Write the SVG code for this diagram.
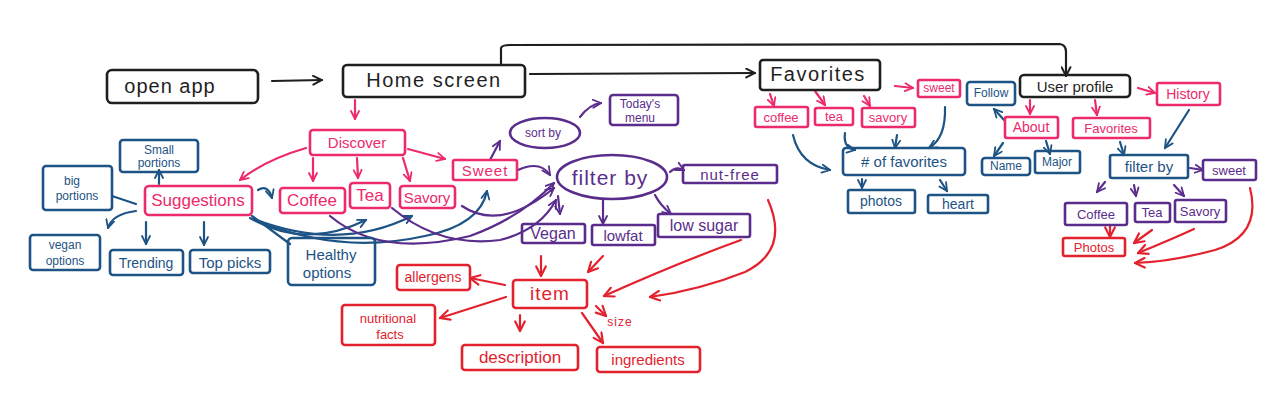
<svg xmlns="http://www.w3.org/2000/svg" width="1268" height="404" viewBox="0 0 1268 404">
<style>
rect,ellipse{fill:none;stroke-width:2.6;stroke-linejoin:round}
path{fill:none;stroke-width:2.2;stroke-linecap:round}
text{font-family:"Liberation Sans",Arial,sans-serif;text-anchor:middle;dominant-baseline:central}
.k{stroke:#1f1f1f}.p{stroke:#ec2a6c}.b{stroke:#1d5385}.u{stroke:#5a2d8c}.r{stroke:#e3222e}
.tk{fill:#1f1f1f}.tp{fill:#ec2a6c}.tb{fill:#1d5385}.tu{fill:#5a2d8c}.tr{fill:#e3222e}
.ck{stroke:#1f1f1f;marker-end:url(#mk)}.cp{stroke:#ec2a6c;marker-end:url(#mp)}.cb{stroke:#1d5385;marker-end:url(#mb)}.cu{stroke:#5a2d8c;marker-end:url(#mu)}.cr{stroke:#e3222e;marker-end:url(#mr)}
.nb{stroke:#1d5385}
</style>
<defs>
<marker id="mk" viewBox="0 0 10 10" refX="9" refY="5" markerWidth="11" markerHeight="11" markerUnits="userSpaceOnUse" orient="auto"><path d="M1,1 L9,5 L1,9" style="stroke:#1f1f1f;stroke-width:1.8"/></marker>
<marker id="mp" viewBox="0 0 10 10" refX="9" refY="5" markerWidth="10" markerHeight="10" markerUnits="userSpaceOnUse" orient="auto"><path d="M1,1 L9,5 L1,9" style="stroke:#ec2a6c;stroke-width:1.8"/></marker>
<marker id="mb" viewBox="0 0 10 10" refX="9" refY="5" markerWidth="10" markerHeight="10" markerUnits="userSpaceOnUse" orient="auto"><path d="M1,1 L9,5 L1,9" style="stroke:#1d5385;stroke-width:1.8"/></marker>
<marker id="mu" viewBox="0 0 10 10" refX="9" refY="5" markerWidth="10" markerHeight="10" markerUnits="userSpaceOnUse" orient="auto"><path d="M1,1 L9,5 L1,9" style="stroke:#5a2d8c;stroke-width:1.8"/></marker>
<marker id="mr" viewBox="0 0 10 10" refX="9" refY="5" markerWidth="12" markerHeight="12" markerUnits="userSpaceOnUse" orient="auto"><path d="M1,1 L9,5 L1,9" style="stroke:#e3222e;stroke-width:1.8"/></marker>
</defs>
<rect width="1268" height="404" fill="#ffffff" style="stroke:none"/>

<g id="connectors">
<!-- black -->
<path class="ck" d="M272,81 L322,80"/>
<path class="ck" d="M530,74 L755,73"/>
<path class="ck" d="M501,65 L501,48 Q502,45 510,45 L1060,44 Q1066,45 1066,52 L1066,76"/>
<!-- pink -->
<path class="cp" d="M355,100 L355,119"/>
<path class="cp" d="M306,148 Q265,160 240,180"/>
<path class="cp" d="M313,158 L313,181"/>
<path class="cp" d="M357,158 L358,178"/>
<path class="cp" d="M403,158 L410,181"/>
<path class="cp" d="M408,149 L445,159"/>
<path class="cp" d="M770,94 L774,106"/>
<path class="cp" d="M815,91 L825,105"/>
<path class="cp" d="M864,96 L870,106"/>
<path class="cp" d="M895,86 L913,88"/>
<path class="cp" d="M1030,100 L1030,114"/>
<path class="cp" d="M1095,100 L1097,115"/>
<path class="cp" d="M1138,88 L1155,93"/>
<!-- blue -->
<path class="cb" d="M159,184 L159,170"/>
<path class="nb" d="M112,196 L136,204"/>
<path class="cb" d="M136,211 Q112,214 108,228"/>
<path class="cb" d="M146,222 L146,244"/>
<path class="cb" d="M204,222 L204,245"/>
<path class="nb" d="M252,216 Q275,233 290,244"/>
<path class="cb" d="M258,190 Q268,184 272,198"/>
<path class="cb" d="M250,218 Q305,250 366,220"/>
<path class="cb" d="M254,219 Q340,252 412,216"/>
<path class="cb" d="M258,221 Q340,255 425,236 Q480,225 487,191"/>
<path class="cb" d="M793,135 Q800,165 830,170"/>
<path class="cb" d="M845,133 Q843,148 855,150"/>
<path class="cb" d="M897,135 L895,148"/>
<path class="cb" d="M945,107 Q946,138 929,148"/>
<path class="cb" d="M862,179 L862,188"/>
<path class="cb" d="M940,180 L947,191"/>
<path class="cb" d="M1005,121 L994,109"/>
<path class="cb" d="M1003,143 L994,156"/>
<path class="cb" d="M1046,141 L1050,154"/>
<path class="cb" d="M1120,142 L1124,155"/>
<path class="cb" d="M1189,110 L1165,148"/>
<!-- purple -->
<path class="cu" d="M490,160 L500,141"/>
<path class="cu" d="M580,117 Q590,104 601,103"/>
<path class="cu" d="M518,170 Q540,160 550,175"/>
<path class="cu" d="M330,216 Q380,258 470,236 Q520,218 554,183"/>
<path class="cu" d="M392,208 Q440,248 500,240 Q540,230 556,200"/>
<path class="cu" d="M462,206 Q500,232 554,188"/>
<path class="cu" d="M670,172 Q676,166 684,170"/>
<path class="cu" d="M558,196 L560,214"/>
<path class="cu" d="M603,200 L603,224"/>
<path class="cu" d="M655,195 Q660,205 671,214"/>
<path class="cu" d="M1105,182 L1097,192"/>
<path class="cu" d="M1134,185 L1136,196"/>
<path class="cu" d="M1174,185 L1184,196"/>
<path class="cu" d="M1190,168 L1203,170"/>
<!-- red -->
<path class="cr" d="M541,256 L541,276"/>
<path class="cr" d="M603,256 L588,272"/>
<path class="cr" d="M741,240 Q680,262 604,296"/>
<path class="cr" d="M768,200 Q790,250 745,272 Q700,290 650,297"/>
<path class="cr" d="M505,285 L470,278"/>
<path class="cr" d="M506,297 L440,318"/>
<path class="cr" d="M520,315 L520,331"/>
<path class="cr" d="M582,313 L603,343"/>
<path class="cr" d="M596,306 L606,316"/>
<path class="cr" d="M1110,226 L1110,237"/>
<path class="cr" d="M1152,230 L1134,243"/>
<path class="cr" d="M1194,229 Q1170,240 1138,253"/>
<path class="cr" d="M1250,188 Q1262,235 1215,250 Q1170,262 1135,263"/>
</g>

<g id="open-app"><rect class="k" x="107" y="70" width="151" height="33" rx="5"/><text class="tk" x="170" y="86" font-size="20" letter-spacing="1">open app</text></g>
<g id="home-screen"><rect class="k" x="343" y="65" width="182" height="32" rx="4"/><text class="tk" x="434" y="80" font-size="20" letter-spacing="1.5">Home screen</text></g>
<g id="favorites"><rect class="k" x="760" y="60" width="120" height="30" rx="3"/><text class="tk" x="818" y="74" font-size="20" letter-spacing="1.5">Favorites</text></g>
<g id="user-profile"><rect class="k" x="1020" y="75" width="110" height="22" rx="4"/><text class="tk" x="1075" y="86" font-size="15">User profile</text></g>

<g id="discover"><rect class="p" x="310" y="130" width="95" height="25" rx="3"/><text class="tp" x="357" y="142" font-size="15">Discover</text></g>
<g id="suggestions"><rect class="p" x="145" y="186" width="107" height="29" rx="4"/><text class="tp" x="198" y="200" font-size="17">Suggestions</text></g>
<g id="coffee"><rect class="p" x="280" y="188" width="65" height="25" rx="3"/><text class="tp" x="312" y="200" font-size="17">Coffee</text></g>
<g id="tea"><rect class="p" x="350" y="183" width="40" height="25" rx="3"/><text class="tp" x="370" y="195" font-size="17">Tea</text></g>
<g id="savory"><rect class="p" x="400" y="186" width="55" height="22" rx="3"/><text class="tp" x="427" y="197" font-size="15">Savory</text></g>
<g id="sweet"><rect class="p" x="453" y="160" width="64" height="20" rx="2"/><text class="tp" x="485" y="170" font-size="15" letter-spacing="1">Sweet</text></g>

<g id="small-portions"><rect class="b" x="120" y="140" width="78" height="32" rx="3"/><text class="tb" font-size="12"><tspan x="159" y="150">Small</tspan><tspan x="159" y="163">portions</tspan></text></g>
<g id="big-portions"><rect class="b" x="43" y="166" width="69" height="44" rx="3"/><text class="tb" font-size="12"><tspan x="72" y="181">big</tspan><tspan x="77" y="196">portions</tspan></text></g>
<g id="vegan-options"><rect class="b" x="30" y="235" width="70" height="35" rx="3"/><text class="tb" font-size="12"><tspan x="65" y="245">vegan</tspan><tspan x="65" y="261">options</tspan></text></g>
<g id="trending"><rect class="b" x="110" y="250" width="73" height="25" rx="3"/><text class="tb" x="146" y="263" font-size="14">Trending</text></g>
<g id="top-picks"><rect class="b" x="190" y="250" width="80" height="23" rx="3"/><text class="tb" x="230" y="262" font-size="15">Top picks</text></g>
<g id="healthy-options"><rect class="b" x="288" y="238" width="87" height="47" rx="4"/><text class="tb" font-size="15"><tspan x="331" y="254">Healthy</tspan><tspan x="327" y="272">options</tspan></text></g>

<g id="sort-by"><ellipse class="u" cx="545" cy="133" rx="35" ry="15"/><text class="tu" x="543" y="133" font-size="12">sort by</text></g>
<g id="todays-menu"><rect class="u" x="610" y="95" width="68" height="30" rx="3"/><text class="tu" font-size="12"><tspan x="640" y="104">Today's</tspan><tspan x="640" y="118">menu</tspan></text></g>
<g id="filter-by"><ellipse class="u" cx="612" cy="177" rx="55" ry="22"/><text class="tu" x="610" y="177" font-size="21" letter-spacing="1">filter by</text></g>
<g id="nut-free"><rect class="u" x="683" y="165" width="94" height="18" rx="2"/><text class="tu" x="730" y="174" font-size="15" letter-spacing="1">nut-free</text></g>
<g id="vegan"><rect class="u" x="522" y="224" width="63" height="19" rx="2"/><text class="tu" x="553" y="233" font-size="16">Vegan</text></g>
<g id="lowfat"><rect class="u" x="592" y="225" width="63" height="20" rx="2"/><text class="tu" x="623" y="235" font-size="15">lowfat</text></g>
<g id="low-sugar"><rect class="u" x="658" y="214" width="92" height="23" rx="2"/><text class="tu" x="704" y="225" font-size="16">low sugar</text></g>

<g id="item"><rect class="r" x="513" y="280" width="74" height="28" rx="3"/><text class="tr" x="550" y="293" font-size="19" letter-spacing="1">item</text></g>
<g id="allergens"><rect class="r" x="397" y="265" width="73" height="25" rx="3"/><text class="tr" x="433" y="277" font-size="14">allergens</text></g>
<g id="nutritional-facts"><rect class="r" x="342" y="305" width="93" height="40" rx="3"/><text class="tr" font-size="13"><tspan x="388" y="318">nutritional</tspan><tspan x="390" y="334">facts</tspan></text></g>
<g id="description"><rect class="r" x="462" y="345" width="116" height="25" rx="3"/><text class="tr" x="520" y="357" font-size="17">description</text></g>
<g id="ingredients"><rect class="r" x="597" y="347" width="103" height="25" rx="3"/><text class="tr" x="648" y="359" font-size="15">ingredients</text></g>
<g id="size"><text class="tr" x="620" y="322" font-size="12" letter-spacing="1">size</text></g>

<g id="fav-coffee"><rect class="p" x="755" y="107" width="53" height="20" rx="2"/><text class="tp" x="781" y="117" font-size="13">coffee</text></g>
<g id="fav-tea"><rect class="p" x="815" y="108" width="38" height="17" rx="2"/><text class="tp" x="834" y="116" font-size="13">tea</text></g>
<g id="fav-savory"><rect class="p" x="862" y="108" width="53" height="19" rx="2"/><text class="tp" x="888" y="117" font-size="13">savory</text></g>
<g id="fav-sweet"><rect class="p" x="918" y="80" width="42" height="17" rx="2"/><text class="tp" x="939" y="88" font-size="12">sweet</text></g>
<g id="num-favorites"><rect class="b" x="843" y="148" width="122" height="27" rx="3"/><text class="tb" x="904" y="161" font-size="15"># of favorites</text></g>
<g id="fav-photos"><rect class="b" x="848" y="190" width="67" height="23" rx="2"/><text class="tb" x="881" y="201" font-size="14">photos</text></g>
<g id="fav-heart"><rect class="b" x="928" y="195" width="60" height="18" rx="2"/><text class="tb" x="958" y="204" font-size="14">heart</text></g>

<g id="follow"><rect class="b" x="967" y="82" width="48" height="23" rx="3"/><text class="tb" x="991" y="93" font-size="12">Follow</text></g>
<g id="about"><rect class="p" x="1005" y="117" width="53" height="21" rx="2"/><text class="tp" x="1031" y="127" font-size="14">About</text></g>
<g id="user-favorites"><rect class="p" x="1073" y="118" width="77" height="20" rx="2"/><text class="tp" x="1111" y="128" font-size="13">Favorites</text></g>
<g id="history"><rect class="p" x="1157" y="83" width="63" height="22" rx="2"/><text class="tp" x="1188" y="94" font-size="14">History</text></g>
<g id="name"><rect class="b" x="982" y="158" width="48" height="17" rx="3"/><text class="tb" x="1006" y="166" font-size="12">Name</text></g>
<g id="major"><rect class="b" x="1035" y="151" width="45" height="22" rx="2"/><text class="tb" x="1057" y="162" font-size="12">Major</text></g>
<g id="user-filter-by"><rect class="b" x="1110" y="155" width="78" height="23" rx="2"/><text class="tb" x="1149" y="166" font-size="15">filter by</text></g>
<g id="user-sweet"><rect class="u" x="1203" y="160" width="53" height="20" rx="2"/><text class="tu" x="1229" y="170" font-size="13">sweet</text></g>
<g id="user-coffee"><rect class="u" x="1065" y="203" width="62" height="22" rx="2"/><text class="tu" x="1096" y="214" font-size="13">Coffee</text></g>
<g id="user-tea"><rect class="u" x="1135" y="203" width="35" height="19" rx="2"/><text class="tu" x="1152" y="212" font-size="13">Tea</text></g>
<g id="user-savory"><rect class="u" x="1175" y="200" width="51" height="22" rx="2"/><text class="tu" x="1200" y="211" font-size="13">Savory</text></g>
<g id="user-photos"><rect class="r" x="1063" y="238" width="62" height="18" rx="2"/><text class="tr" x="1094" y="247" font-size="13">Photos</text></g>
</svg>
